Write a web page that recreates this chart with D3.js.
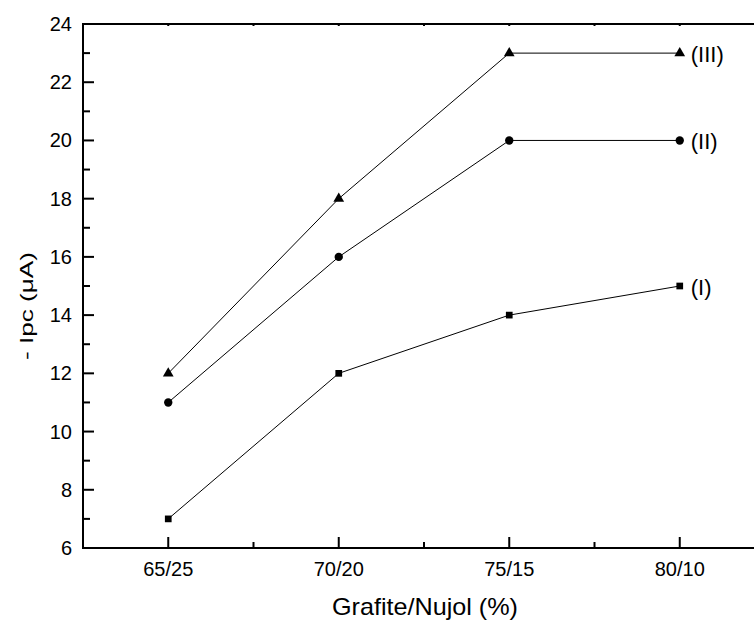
<!DOCTYPE html>
<html>
<head>
<meta charset="utf-8">
<script src="https://cdn.jsdelivr.net/npm/d3@7"></script>
<style>
  body { margin: 0; background: #fff; }
  svg { display: block; font-family: Arial, "Liberation Sans", sans-serif; }
</style>
</head>
<body>
<div id="chart"></div>
<script>
// categories and series
var categories = ["65/25", "70/20", "75/15", "80/10"];
var seriesI   = [7, 12, 14, 15];
var seriesII  = [11, 16, 20, 20];
var seriesIII = [12, 18, 23, 23];
var seriesNames = ["(I)", "(II)", "(III)"];
var yTicks = [6, 8, 10, 12, 14, 16, 18, 20, 22, 24];

var width = 754, height = 621;
var margin = {top: 24, left: 83, bottom: 73};

var svg = d3.select("#chart").append("svg")
    .attr("width", width)
    .attr("height", height);

// x is an index scale, half a step of padding each side
var x = d3.scaleLinear()
    .domain([-0.5, categories.length - 0.5])
    .range([margin.left, margin.left + 4 * 170.5]);

var y = d3.scaleLinear()
    .domain([6, 24])
    .range([height - margin.bottom, margin.top]);

var x0 = x.range()[0], x1 = x.range()[1];
var y0 = y.range()[0], y1 = y.range()[1];

// frame
var frame = svg.append("g").attr("stroke", "#000").attr("stroke-width", 2);
frame.append("line").attr("x1", x0).attr("x2", x0).attr("y1", y0 + 1).attr("y2", y1 - 1);
frame.append("line").attr("x1", x0 - 1).attr("x2", x1).attr("y1", y0).attr("y2", y0);
frame.append("line").attr("x1", x0 - 1).attr("x2", x1).attr("y1", y1).attr("y2", y1);

// y ticks (major + minor), pointing inward
var yMinor = d3.range(7, 24, 2);
frame.selectAll(".ymaj").data(yTicks).enter().append("line")
    .attr("x1", x0).attr("x2", x0 + 11)
    .attr("y1", function(d){ return y(d); }).attr("y2", function(d){ return y(d); });
frame.selectAll(".ymin").data(yMinor).enter().append("line")
    .attr("x1", x0).attr("x2", x0 + 7)
    .attr("y1", function(d){ return y(d); }).attr("y2", function(d){ return y(d); });

svg.selectAll(".ylab").data(yTicks).enter().append("text")
    .attr("x", x0 - 11)
    .attr("y", function(d){ return y(d); })
    .attr("dy", "0.35em")
    .attr("text-anchor", "end")
    .attr("font-size", 20)
    .text(function(d){ return d; });

// x ticks
var xMajor = d3.range(categories.length);
var xMinor = d3.range(0.5, categories.length, 1);
frame.selectAll(".xmaj").data(xMajor).enter().append("line")
    .attr("x1", function(d){ return x(d); }).attr("x2", function(d){ return x(d); })
    .attr("y1", y0).attr("y2", y0 - 11);
frame.selectAll(".xmin").data(xMinor).enter().append("line")
    .attr("x1", function(d){ return x(d); }).attr("x2", function(d){ return x(d); })
    .attr("y1", y0).attr("y2", y0 - 6);
// tiny ticks on top edge
frame.selectAll(".xtop").data(xMajor.concat(xMinor)).enter().append("line")
    .attr("x1", function(d){ return x(d); }).attr("x2", function(d){ return x(d); })
    .attr("y1", y1).attr("y2", y1 + 2);

svg.selectAll(".xlab").data(categories).enter().append("text")
    .attr("x", function(d, i){ return x(i); })
    .attr("y", y0 + 28)
    .attr("text-anchor", "middle")
    .attr("font-size", 20)
    .text(function(d){ return d; });

// axis titles (the original's lettering is a bit stretched)
svg.append("text")
    .attr("x", 425).attr("y", 615)
    .attr("text-anchor", "middle")
    .attr("font-size", 24)
    .attr("textLength", 186)
    .attr("lengthAdjust", "spacingAndGlyphs")
    .text("Grafite/Nujol (%)");

svg.append("text")
    .attr("transform", "translate(33,306) rotate(-90)")
    .attr("text-anchor", "middle")
    .attr("font-size", 19)
    .attr("textLength", 108)
    .attr("lengthAdjust", "spacingAndGlyphs")
    .text("- Ipc (\u03bcA)");

// series
var allSeries = [seriesI, seriesII, seriesIII];
var shapes = [d3.symbolSquare, d3.symbolCircle, d3.symbolTriangle];
var sizes = [45, 55, 50];

var line = d3.line()
    .x(function(d, i){ return x(i); })
    .y(function(d){ return y(d); });

allSeries.forEach(function(s, k) {
    svg.append("path")
        .attr("d", line(s))
        .attr("fill", "none")
        .attr("stroke", "#000")
        .attr("stroke-width", 1);

    svg.selectAll(".pt" + k).data(s).enter().append("path")
        .attr("transform", function(d, i){ return "translate(" + x(i) + "," + y(d) + ")"; })
        .attr("d", d3.symbol().type(shapes[k]).size(sizes[k]))
        .attr("fill", "#000");

    svg.append("text")
        .attr("x", x(s.length - 1) + 11)
        .attr("y", y(s[s.length - 1]))
        .attr("dy", "0.4em")
        .attr("font-size", 22)
        .text(seriesNames[k]);
});
</script>
</body>
</html>
